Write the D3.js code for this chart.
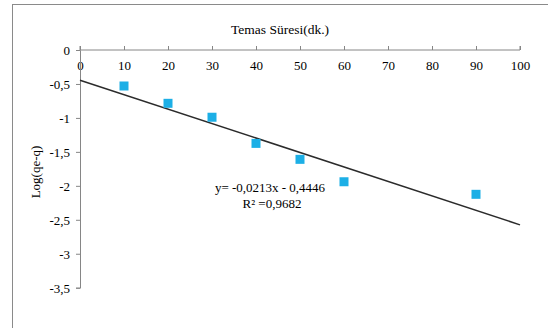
<!DOCTYPE html>
<html>
<head>
<meta charset="utf-8">
<script src="https://cdn.jsdelivr.net/npm/d3@7"></script>
<style>
  html, body { margin: 0; padding: 0; background: #fff; }
  svg { display: block; }
  text { font-family: "Liberation Serif", "Times New Roman", serif; fill: #000; }
</style>
</head>
<body>
<script>
// Contact time (min) and log(qe - q) measurements
const times = [10, 20, 30, 40, 50, 60, 90];
const logValues = [-0.53, -0.785, -0.99, -1.375, -1.61, -1.94, -2.125];
const xTicks = [0, 10, 20, 30, 40, 50, 60, 70, 80, 90, 100];
const yTicks = [0, -0.5, -1, -1.5, -2, -2.5, -3, -3.5];
// Linear trend line: y = slope * x + intercept
const slope = -0.0213;
const intercept = -0.4446;
const rSquared = 0.9682;

const W = 548, H = 328;
const svg = d3.select("body").append("svg").attr("width", W).attr("height", H);

// Outer chart frame
svg.append("rect")
  .attr("x", 12.5).attr("y", 4.5)
  .attr("width", 600).attr("height", 400)
  .attr("fill", "none").attr("stroke", "#8a8a8a").attr("stroke-width", 1);

const x = d3.scaleLinear().domain([0, 100]).range([80, 520]);
const y = d3.scaleLinear().domain([0, -3.5]).range([50, 287.7]);

// Decimal comma and plain hyphen for negatives
const fmt = d => String(d).replace(".", ",");

// X axis along the top (y = 0), ticks pointing up, labels below
const xAxis = svg.append("g")
  .attr("transform", `translate(0,${y(0)})`)
  .call(d3.axisTop(x).tickValues(xTicks).tickSize(4).tickFormat(fmt));
xAxis.select(".domain").attr("stroke", "#868686").attr("d", `M${x(0)},-4V0H${x(100)}V-4`);
xAxis.selectAll(".tick line").attr("stroke", "#868686");
xAxis.selectAll(".tick text")
  .attr("y", 20).attr("dy", 0)
  .attr("font-size", 13).attr("font-family", "Liberation Serif");

// Y axis
const yAxis = svg.append("g")
  .attr("transform", `translate(${x(0)},0)`)
  .call(d3.axisLeft(y).tickValues(yTicks).tickSize(4).tickFormat(fmt));
yAxis.select(".domain").attr("stroke", "#868686");
yAxis.selectAll(".tick line").attr("stroke", "#868686");
yAxis.selectAll(".tick text")
  .attr("x", -10).attr("dy", "0.35em")
  .attr("font-size", 13).attr("font-family", "Liberation Serif");

// Axis titles
svg.append("text")
  .attr("x", 280).attr("y", 34)
  .attr("text-anchor", "middle").attr("font-size", 13.5)
  .text("Temas Süresi(dk.)");

svg.append("text")
  .attr("transform", `translate(40,172) rotate(-90)`)
  .attr("text-anchor", "middle").attr("font-size", 13)
  .text("Log(qe-q)");

// Trend line
svg.append("line")
  .attr("x1", x(0)).attr("y1", y(intercept))
  .attr("x2", x(100)).attr("y2", y(slope * 100 + intercept))
  .attr("stroke", "#2b2b2b").attr("stroke-width", 1.5);

// Data markers
const m = 9;
svg.append("g").selectAll("rect")
  .data(times.map((t, i) => [t, logValues[i]]))
  .join("rect")
  .attr("x", d => x(d[0]) - m / 2)
  .attr("y", d => y(d[1]) - m / 2)
  .attr("width", m).attr("height", m)
  .attr("fill", "#1cafe6");

// Equation label
const eq = svg.append("text").attr("text-anchor", "middle").attr("font-size", 13);
eq.append("tspan").attr("x", 270).attr("y", 192)
  .text(`y= ${fmt(slope)}x - ${fmt(-intercept)}`);
eq.append("tspan").attr("x", 272).attr("y", 208)
  .text(`R² =${fmt(rSquared)}`);
</script>
</body>
</html>
